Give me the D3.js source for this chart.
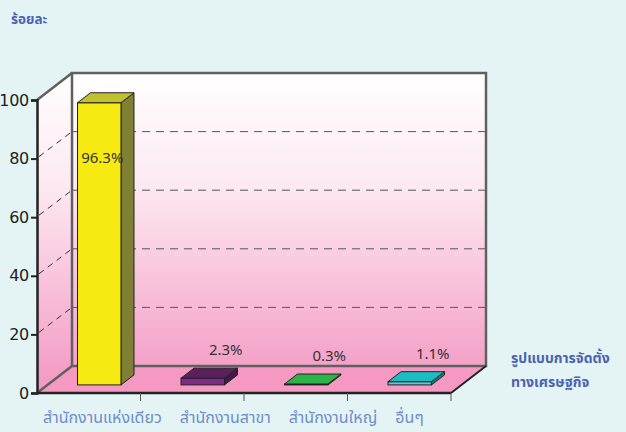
<!DOCTYPE html>
<html><head><meta charset="utf-8">
<script src="https://cdn.jsdelivr.net/npm/d3@7"></script>
<style>
html,body{margin:0;padding:0;background:#E4F4F5;}
svg{display:block;}
text{font-family:Tahoma,"Noto Sans Thai","Noto Sans",sans-serif;}
</style></head>
<body><svg id="c" width="626" height="432"></svg>
<script>
const categories = ["สำนักงานแห่งเดียว", "สำนักงานสาขา", "สำนักงานใหญ่", "อื่นๆ"];
const values = [96.3, 2.3, 0.3, 1.1];
const valueLabels = ["96.3%", "2.3%", "0.3%", "1.1%"];
const yTicks = [0, 20, 40, 60, 80, 100];
const yTickLabels = ["0", "20", "40", "60", "80", "100"];
const frontColors = ["#F6EA12", "#7F2A85", "#2DB34A", "#5BC6DC"];
const topColors = ["#C0C030", "#5C1F60", "#2DB34A", "#1BBEC0"];
const sideColors = ["#808035", "#45174A", "#1F7D33", "#128585"];
const yTitle = "ร้อยละ";
const xTitle = ["รูปแบบการจัดตั้ง", "ทางเศรษฐกิจ"];

const svg = d3.select("#c");
const X0 = 37, X1 = 451, YB = 393, YT = 100, DX = 35, DY = -27;
const x = d3.scaleBand().domain(categories).range([X0, X1]).padding(0);
const y = d3.scaleLinear().domain([0, 100]).range([YB, YT]);

const defs = svg.append("defs");
const g1 = defs.append("linearGradient").attr("id", "wall").attr("gradientUnits", "userSpaceOnUse")
  .attr("x1", 0).attr("y1", y(100) + DY).attr("x2", 0).attr("y2", YB);
g1.append("stop").attr("offset", "0").attr("stop-color", "#FFFFFF");
g1.append("stop").attr("offset", "0.35").attr("stop-color", "#FDE9F2");
g1.append("stop").attr("offset", "1").attr("stop-color", "#F396C1");

// back wall
svg.append("rect").attr("x", X0 + DX).attr("y", y(100) + DY)
  .attr("width", X1 - X0).attr("height", YB - y(100))
  .attr("fill", "url(#wall)");
// side wall
svg.append("polygon")
  .attr("points", [[X0, y(100)], [X0 + DX, y(100) + DY], [X0 + DX, YB + DY], [X0, YB]].map(p => p.join(",")).join(" "))
  .attr("fill", "url(#wall)");
// floor
svg.append("polygon")
  .attr("points", [[X0, YB], [X1, YB], [X1 + DX, YB + DY], [X0 + DX, YB + DY]].map(p => p.join(",")).join(" "))
  .attr("fill", "#F599C3");

// gridlines
const gl = yTicks.filter(v => v > 0 && v < 100);
svg.selectAll(".gb").data(gl).enter().append("line")
  .attr("x1", X0 + DX).attr("x2", X1 + DX)
  .attr("y1", d => y(d) + DY).attr("y2", d => y(d) + DY)
  .attr("stroke", "#555").attr("stroke-width", 1).attr("stroke-dasharray", "8,6");
svg.selectAll(".gs").data(gl).enter().append("line")
  .attr("x1", X0 + 2).attr("x2", X0 + DX)
  .attr("y1", d => y(d) - 2).attr("y2", d => y(d) + DY)
  .attr("stroke", "#333").attr("stroke-width", 1).attr("stroke-dasharray", "6,5");

// wall borders
svg.append("rect").attr("x", X0 + DX).attr("y", y(100) + DY)
  .attr("width", X1 - X0).attr("height", YB - y(100))
  .attr("fill", "none").attr("stroke", "#606060").attr("stroke-width", 2.5);
svg.append("line").attr("x1", X0).attr("y1", y(100)).attr("x2", X0 + DX).attr("y2", y(100) + DY)
  .attr("stroke", "#606060").attr("stroke-width", 2.5);
svg.append("line").attr("x1", X0).attr("y1", YB).attr("x2", X0 + DX).attr("y2", YB + DY)
  .attr("stroke", "#606060").attr("stroke-width", 2.5);

// bars
const bw = x.bandwidth(), barW = bw * 0.42;
const ox = DX * 0.3, oy = DY * 0.3, bdx = 13, bdy = -10;
const bars = svg.selectAll(".bar").data(values).enter().append("g");
bars.each(function(v, i) {
  const g = d3.select(this);
  const xl = x(categories[i]) + (bw - barW) / 2 + ox;
  const yt = y(v) + oy, yb = YB + oy, w = barW;
  const P = a => a.map(p => p.join(",")).join(" ");
  g.append("polygon").attr("points", P([[xl + w, yt], [xl + w + bdx, yt + bdy], [xl + w + bdx, yb + bdy], [xl + w, yb]]))
    .attr("fill", sideColors[i]).attr("stroke", "#222").attr("stroke-width", 1).attr("stroke-linejoin", "round");
  g.append("rect").attr("x", xl).attr("y", yt).attr("width", w).attr("height", yb - yt)
    .attr("fill", frontColors[i]).attr("stroke", "#222").attr("stroke-width", 1);
  g.append("polygon").attr("points", P([[xl, yt], [xl + w, yt], [xl + w + bdx, yt + bdy], [xl + bdx, yt + bdy]]))
    .attr("fill", topColors[i]).attr("stroke", "#222").attr("stroke-width", 1).attr("stroke-linejoin", "round");
  const cx = xl + w / 2 + bdx;
  const inside = v > 50;
  g.append("text")
    .attr("x", inside ? xl + w / 2 + 3 : cx + 10)
    .attr("y", inside ? yt + 60 : yt + bdy - 13)
    .attr("text-anchor", "middle").attr("font-size", 15).attr("fill", "#333")
    .text(valueLabels[i]);
});

// floor front edges
svg.append("line").attr("x1", X0).attr("y1", YB).attr("x2", X1).attr("y2", YB)
  .attr("stroke", "#222").attr("stroke-width", 2.5);
svg.append("line").attr("x1", X1).attr("y1", YB).attr("x2", X1 + DX).attr("y2", YB + DY)
  .attr("stroke", "#222").attr("stroke-width", 2);

// bottom ticks
svg.selectAll(".bt").data(categories).enter().append("line")
  .attr("x1", d => x(d) + bw).attr("x2", d => x(d) + bw)
  .attr("y1", YB).attr("y2", YB + 8)
  .attr("stroke", "#555").attr("stroke-width", 1);

// y axis
const yAxis = d3.axisLeft(y).tickValues(yTicks).tickSize(6).tickPadding(2)
  .tickFormat((d, i) => yTickLabels[i]);
const ya = svg.append("g").attr("transform", `translate(${X0},0)`).call(yAxis);
ya.select(".domain").attr("stroke", "#222").attr("stroke-width", 2.5);
ya.selectAll(".tick line").attr("stroke", "#222").attr("stroke-width", 2);
ya.selectAll(".tick text").attr("font-size", 16).attr("fill", "#222")
  .style("font-family", "Tahoma,'DejaVu Sans',sans-serif").attr("letter-spacing", "-0.3");

// category labels laid out in sequence as one caption row
const cl = svg.selectAll(".cl").data(categories).enter().append("text")
  .attr("y", 423).attr("font-size", 16).attr("fill", "#6F8CCB")
  .text(d => d);
let cursor = X0 + 6;
cl.each(function() {
  const t = d3.select(this);
  t.attr("x", cursor);
  cursor += this.getComputedTextLength() + 18;
});

// titles
svg.append("text").attr("x", 11).attr("y", 24).attr("font-size", 13.5).attr("font-weight", "bold")
  .attr("fill", "#4A62B0").text(yTitle);
svg.selectAll(".xt").data(xTitle).enter().append("text")
  .attr("x", 511).attr("y", (d, i) => 363 + i * 24)
  .attr("font-size", 14).attr("font-weight", "bold").attr("fill", "#4A62B0").text(d => d);
</script></body></html>
